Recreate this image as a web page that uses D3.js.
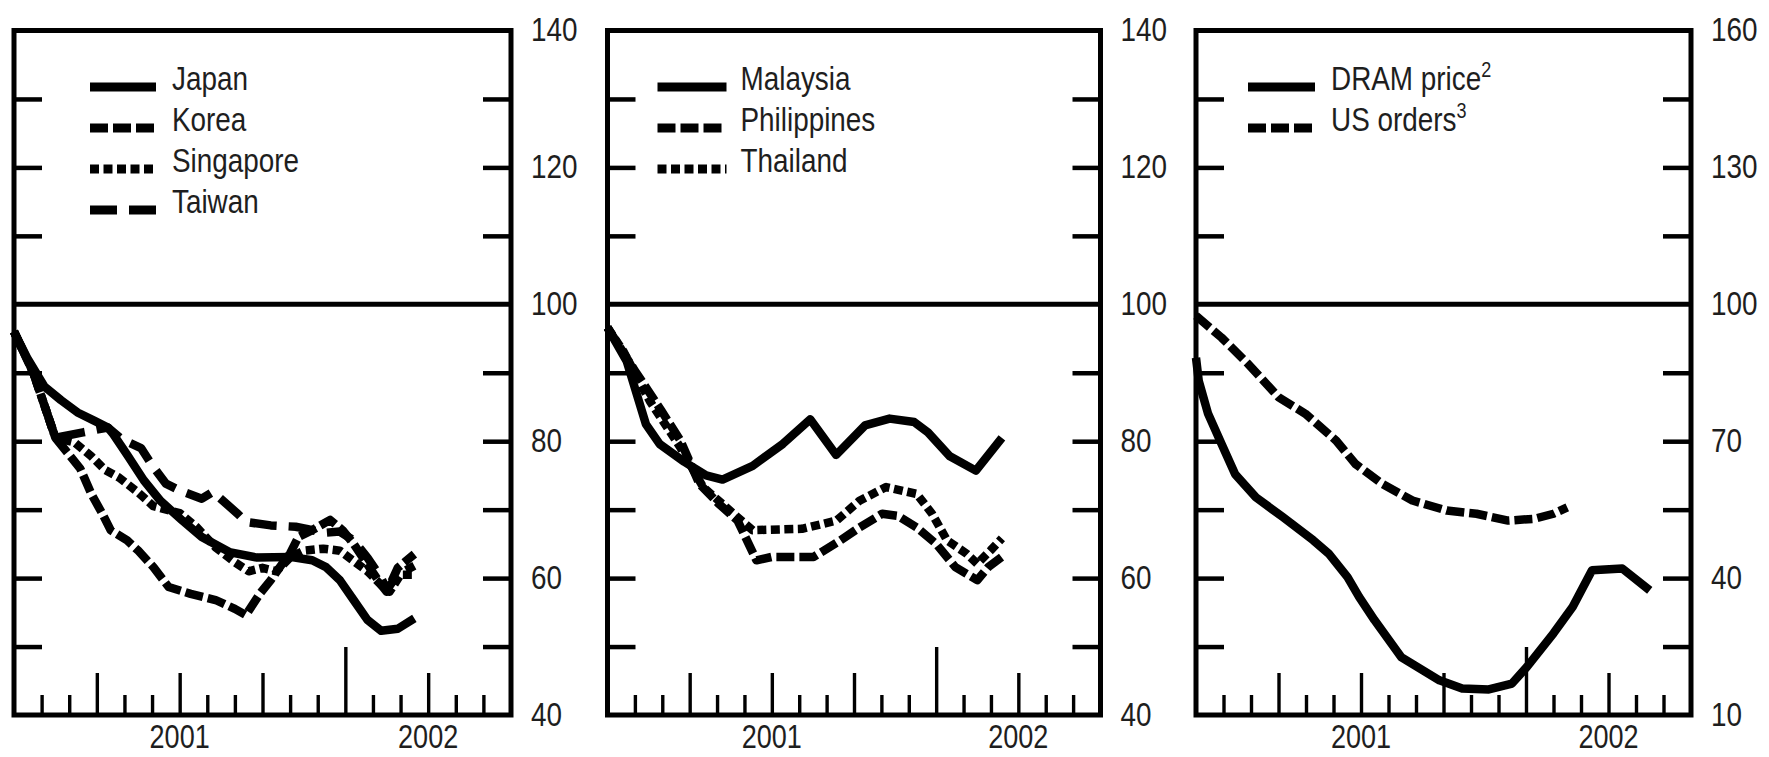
<!doctype html>
<html>
<head>
  <meta charset="utf-8">
  <title>Asian exports and the IT cycle</title>
  <script src="https://cdn.jsdelivr.net/npm/d3@7"></script>
  <style>
    body { margin: 0; background: #fff; }
    svg text { font-family: 'Liberation Sans', Arial, Helvetica, sans-serif; fill: #1e1e1e; }
  </style>
</head>
<body>
  <div id="chart"></div>

  <script type="text/javascript">
    var width = 1769;
    var height = 757;
    var plotTop = 30.5;
    var plotBottom = 715;

    // months counted from January 2001, index values
    var japan = [[0,96],[0.5,92],[1.1,88],[1.7,86],[2.3,84.2],[2.9,83],[3.4,82],[3.6,81],[4.1,78],[4.7,74.3],
      [5.3,71.3],[6.1,68.4],[6.8,66],[7.8,63.8],[8.8,63],[10,63.1],[10.8,62.6],[11.3,61.6],[11.8,59.7],
      [12.3,56.8],[12.8,53.9],[13.3,52.3],[13.9,52.6],[14.5,54.1]];
    var korea = [[0,96],[0.7,90],[1.5,80.5],[2.0,78],[2.4,76],[2.8,72.3],[3.2,69.4],[3.5,67],[4.1,65.5],
      [4.5,64],[5.05,61.6],[5.6,58.7],[6.4,57.7],[7.3,56.8],[8.0,55.5],[8.4,54.6],[8.9,57.7],[9.3,59.7],
      [9.7,62],[10.0,63.6],[10.3,66],[10.8,67],[11.45,68.5],[11.9,67],[12.3,65],[12.8,62],[13.3,59],
      [13.5,58],[13.9,61.5],[14.5,63.5]];
    var singapore = [[0,96],[0.7,90],[1.5,80.5],[2.2,79.8],[2.8,77.8],[3.3,75.8],[3.8,74.7],[4.5,72.5],
      [5.05,70.5],[6.0,69.5],[6.6,67.5],[7.3,64.5],[8.0,62.3],[8.5,61],[9.0,61.5],[9.5,61],[10.0,63],
      [10.5,64],[11.2,64.3],[11.8,64],[12.3,62.5],[12.8,61],[13.3,59],[13.6,58],[14.0,60.5],[14.5,60.5]];
    var taiwan = [[0,96],[0.7,90],[1.5,80.5],[2.5,81.3],[3.4,82],[3.9,80.3],[4.6,79],[5.0,76.5],[5.5,73.8],
      [6.0,72.8],[6.8,71.6],[7.2,72.6],[8.1,69.4],[8.4,68.2],[9.3,67.7],[10.2,67.5],[10.6,67.2],[11.2,66.6],
      [11.8,66.8],[12.3,65.5],[12.8,63],[13.3,60],[13.5,58.3],[13.9,60.5],[14.5,61.8]];

    var malaysia = [[0,96.6],[0.7,91.7],[1.4,82.5],[1.9,79.6],[2.8,77],[3.6,75],[4.2,74.4],[5.3,76.4],
      [6.4,79.6],[7.4,83.2],[8.35,78],[9.4,82.3],[10.3,83.3],[11.2,82.8],[11.7,81.3],[12.5,77.8],
      [13.45,75.7],[14.4,80.5]];
    var philippines = [[0,96.6],[1.0,90.3],[1.96,84.5],[2.66,80.1],[3.35,73.8],[4.05,70.9],[4.75,68.4],
      [5.44,62.6],[6.0,63.1],[7.53,63.1],[8.5,65.5],[9.2,67.4],[10.03,69.4],[10.6,69.1],[11.29,67.4],
      [12.0,65],[12.7,61.6],[13.5,59.7],[13.9,61.6],[14.4,63.1]];
    var thailand = [[0,96.6],[0.57,93.2],[1.54,85.9],[2.66,79.1],[3.49,73.3],[4.6,69.4],[5.3,67],[7.1,67.2],
      [8.36,68.4],[9.2,71.3],[10.17,73.3],[11.29,72.3],[11.85,69.4],[12.4,65.5],[13.1,63.6],[13.5,62.1],
      [14.0,64.1],[14.4,65.8]];

    var dramPrice = [[0,88.3],[0.1,83.2],[0.44,76],[0.93,69.4],[1.42,62.8],[2.18,57.7],[3.15,53.4],
      [4.26,48.3],[4.82,45.4],[5.51,40.2],[5.93,35.9],[6.49,30.8],[7.46,22.7],[8.85,17.6],[9.68,15.8],
      [10.65,15.6],[11.49,16.9],[12.04,20.6],[13.0,27.9],[13.7,33.7],[14.4,41.7],[15.5,42.1],[16.5,37.3]];
    var usOrders = [[0,97.5],[0.93,92.7],[1.9,86.9],[3.01,79.6],[3.98,76],[5.1,70.1],[5.8,65],[6.76,60.7],
      [7.87,57],[9.12,54.8],[10.2,54.1],[11.35,52.6],[12.3,53],[13.0,54.1],[13.5,55.5]];

    var yLabelsA = [40, 60, 80, 100, 120, 140];
    var yMinorA = [50, 60, 70, 80, 90, 110, 120, 130];
    var yLabelsB = [10, 40, 70, 100, 130, 160];
    var yMinorB = [25, 40, 55, 70, 85, 115, 130, 145];
    var years = ['2001', '2002'];
    var monthCount = 18;

    var solid = null;
    var shortDash = '18,5';
    var dots = '9,4.5';
    var longDash = '27,12';

    var panels = [
      { left: 14, right: 511, yDomain: [40, 140], labels: yLabelsA, minor: yMinorA, legend: [76, 142, 158],
        series: [
          { name: 'Japan', data: japan, dash: solid },
          { name: 'Korea', data: korea, dash: shortDash },
          { name: 'Singapore', data: singapore, dash: dots },
          { name: 'Taiwan', data: taiwan, dash: longDash }
        ] },
      { left: 607.5, right: 1100.5, yDomain: [40, 140], labels: yLabelsA, minor: yMinorA, legend: [50, 119, 133],
        series: [
          { name: 'Malaysia', data: malaysia, dash: solid },
          { name: 'Philippines', data: philippines, dash: shortDash },
          { name: 'Thailand', data: thailand, dash: dots }
        ] },
      { left: 1196, right: 1691, yDomain: [10, 160], labels: yLabelsB, minor: yMinorB, legend: [52, 119, 135],
        series: [
          { name: 'DRAM price', sup: '2', data: dramPrice, dash: solid },
          { name: 'US orders', sup: '3', data: usOrders, dash: shortDash }
        ] }
    ];

    var legendRows = [87, 128, 169, 210];
    var squeeze = 'scale(0.82,1)';

    var svg = d3.select('#chart')
      .append('svg')
      .attr('width', width)
      .attr('height', height);

    panels.forEach(function(p) {
      var x = d3.scaleLinear().domain([0, monthCount]).range([p.left, p.right]);
      var y = d3.scaleLinear().domain(p.yDomain).range([plotBottom, plotTop]);
      var g = svg.append('g');

      // data lines
      var line = d3.line()
        .x(function(d) { return x(d[0]); })
        .y(function(d) { return y(d[1]); });

      g.selectAll('path.series')
        .data(p.series)
        .enter()
        .append('path')
        .attr('class', 'series')
        .attr('d', function(s) { return line(s.data); })
        .attr('fill', 'none')
        .attr('stroke', '#000')
        .attr('stroke-width', 8.5)
        .attr('stroke-linejoin', 'round')
        .attr('stroke-dasharray', function(s) { return s.dash; });

      // inner y ticks, both sides
      var leftTicks = g.append('g')
        .attr('transform', 'translate(' + p.left + ',0)')
        .call(d3.axisRight(y).tickValues(p.minor).tickSize(28).tickFormat(''));
      var rightTicks = g.append('g')
        .attr('transform', 'translate(' + p.right + ',0)')
        .call(d3.axisLeft(y).tickValues(p.minor).tickSize(28).tickFormat(''));
      [leftTicks, rightTicks].forEach(function(a) {
        a.select('.domain').remove();
        a.selectAll('line').attr('stroke', '#000').attr('stroke-width', 4.5);
      });

      // month ticks along the bottom
      var xTicks = g.append('g')
        .attr('transform', 'translate(0,' + plotBottom + ')')
        .call(d3.axisTop(x).tickValues(d3.range(1, monthCount)).tickSize(20).tickFormat(''));
      xTicks.select('.domain').remove();
      xTicks.selectAll('line')
        .attr('stroke', '#000')
        .attr('stroke-width', 3.4)
        .attr('y2', function(d) { return d % 12 === 0 ? -68 : (d % 3 === 0 ? -42 : -20); });

      // year labels centred on visible part of each year
      g.selectAll('text.year')
        .data(years)
        .enter()
        .append('text')
        .attr('class', 'year')
        .attr('text-anchor', 'middle')
        .attr('font-size', '33px')
        .attr('transform', function(d, i) {
          var a = Math.max(0, i * 12), b = Math.min(monthCount, i * 12 + 12);
          return 'translate(' + x((a + b) / 2) + ',748) ' + squeeze;
        })
        .text(function(d) { return d; });

      // right hand value labels
      var labelAxis = g.append('g')
        .attr('transform', 'translate(' + (p.right + 20) + ',0)')
        .call(d3.axisRight(y).tickValues(p.labels).tickSize(0).tickPadding(0));
      labelAxis.select('.domain').remove();
      labelAxis.selectAll('text')
        .attr('x', 0)
        .attr('dy', '0.3em')
        .attr('transform', squeeze)
        .style('font-size', '34px');

      // frame and 100 line
      g.append('rect')
        .attr('x', p.left)
        .attr('y', plotTop)
        .attr('width', p.right - p.left)
        .attr('height', plotBottom - plotTop)
        .attr('fill', 'none')
        .attr('stroke', '#000')
        .attr('stroke-width', 5);
      g.append('line')
        .attr('x1', p.left).attr('x2', p.right)
        .attr('y1', y(100)).attr('y2', y(100))
        .attr('stroke', '#000')
        .attr('stroke-width', 5);

      // legend
      var leg = g.selectAll('g.legend')
        .data(p.series)
        .enter()
        .append('g')
        .attr('class', 'legend');
      leg.append('line')
        .attr('x1', p.left + p.legend[0])
        .attr('x2', p.left + p.legend[1])
        .attr('y1', function(d, i) { return legendRows[i]; })
        .attr('y2', function(d, i) { return legendRows[i]; })
        .attr('stroke', '#000')
        .attr('stroke-width', 9)
        .attr('stroke-dasharray', function(d) { return d.dash; });
      var lt = leg.append('text')
        .attr('font-size', '34px')
        .attr('transform', function(d, i) {
          return 'translate(' + (p.left + p.legend[2]) + ',' + (legendRows[i] + 3) + ') ' + squeeze;
        });
      lt.append('tspan').text(function(d) { return d.name; });
      lt.filter(function(d) { return d.sup; })
        .append('tspan')
        .attr('font-size', '22px')
        .attr('dy', -13)
        .text(function(d) { return d.sup; });
    });
  </script>
</body>
</html>
